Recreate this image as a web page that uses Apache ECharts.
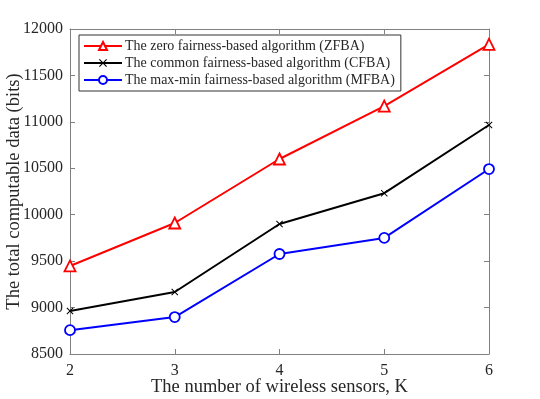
<!DOCTYPE html>
<html>
<head>
<meta charset="utf-8">
<script src="https://cdn.jsdelivr.net/npm/echarts@6/dist/echarts.min.js"></script>
<style>
  html, body { margin: 0; padding: 0; background: #fff; }
  #chart { width: 540px; height: 399px; }
</style>
</head>
<body>
<div id="chart"></div>
<script>
const sensors = [2, 3, 4, 5, 6];
const zfba = [9448, 9911, 10600, 11170, 11835];
const cfba = [8963, 9168, 9900, 10232, 10966];
const mfba = [8757, 8898, 9577, 9750, 10492];
const names = [
  'The zero fairness-based algorithm (ZFBA)',
  'The common fairness-based algorithm (CFBA)',
  'The max-min fairness-based algorithm (MFBA)'
];

const FONT = '"Liberation Serif", "DejaVu Serif", serif';
const AXIS = '#808080';
const TEXT = '#262626';
const CROSS = 'path://M0,1L1,0L5,4L9,0L10,1L6,5L10,9L9,10L5,6L1,10L0,9L4,5Z';

const pairs = ys => sensors.map((x, i) => [x, ys[i]]);

const chart = echarts.init(document.getElementById('chart'), null, { renderer: 'canvas' });

const baseX = {
  type: 'value', min: 2, max: 6, interval: 1,
  axisLine: { lineStyle: { color: AXIS, width: 1 } },
  axisTick: { inside: true, length: 5, lineStyle: { color: AXIS } },
  splitLine: { show: false }
};
const baseY = {
  type: 'value', min: 8500, max: 12000, interval: 500,
  axisLine: { show: true, lineStyle: { color: AXIS, width: 1 } },
  axisTick: { show: true, inside: true, length: 5, lineStyle: { color: AXIS } },
  splitLine: { show: false }
};

chart.setOption({
  animation: false,
  backgroundColor: '#fff',
  grid: { left: 70, right: 51, top: 29, bottom: 45, containLabel: false, outerBoundsMode: 'none' },
  legend: {
    orient: 'vertical',
    left: 79, top: 35,
    padding: [4, 6, 4, 4],
    itemGap: 3,
    itemWidth: 38, itemHeight: 10,
    backgroundColor: '#fff',
    borderColor: '#333', borderWidth: 1,
    textStyle: { fontFamily: FONT, fontSize: 14, color: TEXT, padding: [0, 0, 0, -2] },
    data: names
  },
  xAxis: [
    Object.assign({}, baseX, {
      position: 'bottom',
      name: 'The number of wireless sensors, K',
      nameLocation: 'middle', nameGap: 24, nameMoveOverlap: false,
      nameTextStyle: { fontFamily: FONT, fontSize: 18.5, color: TEXT },
      axisLabel: { fontFamily: FONT, fontSize: 16, color: TEXT, margin: 9 }
    }),
    Object.assign({}, baseX, { position: 'top', axisLabel: { show: false } })
  ],
  yAxis: [
    Object.assign({}, baseY, {
      position: 'left',
      name: 'The total computable data (bits)',
      nameLocation: 'middle', nameGap: 46, nameMoveOverlap: false,
      nameTextStyle: { fontFamily: FONT, fontSize: 18.5, color: TEXT },
      axisLabel: { fontFamily: FONT, fontSize: 16, color: TEXT, margin: 7, formatter: v => String(v) }
    }),
    Object.assign({}, baseY, { position: 'right', axisLabel: { show: false } })
  ],
  series: [
    {
      name: names[0], type: 'line', data: pairs(zfba),
      symbol: 'triangle', symbolSize: 11, showAllSymbol: true,
      lineStyle: { color: '#ff0000', width: 2 },
      itemStyle: { color: '#fff', borderColor: '#ff0000', borderWidth: 1.8 }
    },
    {
      name: names[1], type: 'line', data: pairs(cfba),
      symbol: CROSS, symbolSize: 7,
      lineStyle: { color: '#000', width: 2 },
      itemStyle: { color: '#000', borderColor: '#000', borderWidth: 0 }
    },
    {
      name: names[2], type: 'line', data: pairs(mfba),
      symbol: 'circle', symbolSize: 10,
      lineStyle: { color: '#0000ff', width: 2 },
      itemStyle: { color: '#fff', borderColor: '#0000ff', borderWidth: 1.8 }
    }
  ]
});
</script>
</body>
</html>
